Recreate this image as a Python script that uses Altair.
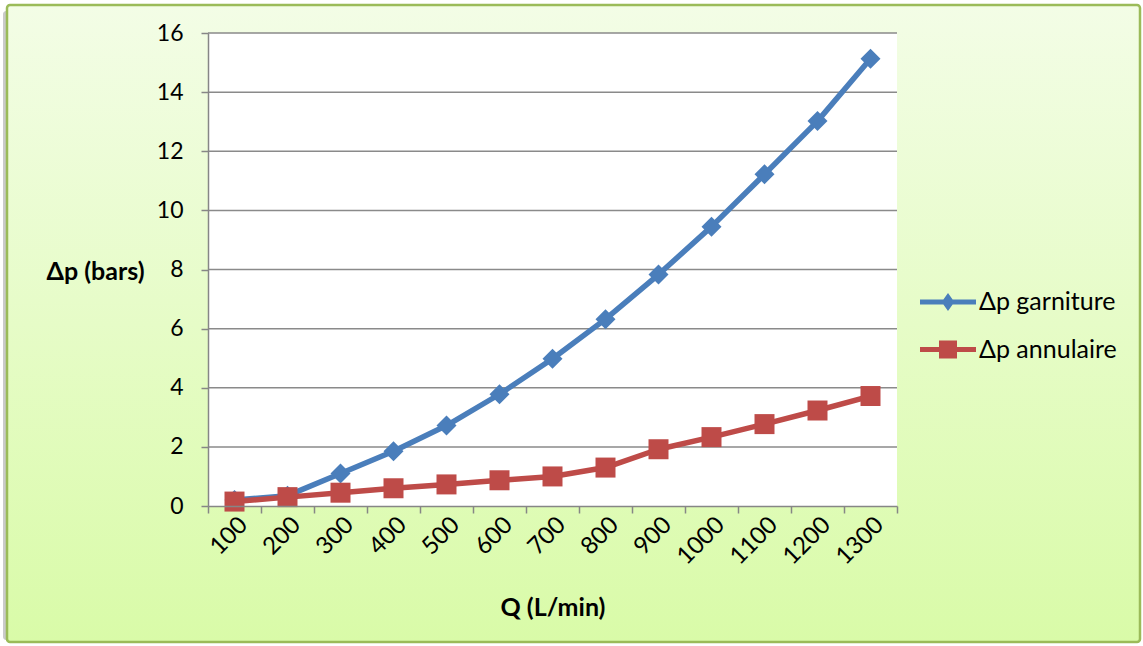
import altair as alt
import pandas as pd

# Flow rates (L/min) and pressure drops (bars)
debits = [100, 200, 300, 400, 500, 600, 700, 800, 900, 1000, 1100, 1200, 1300]
dp_garniture = [0.2, 0.35, 1.1, 1.85, 2.72, 3.78, 4.98, 6.32, 7.83, 9.45, 11.22, 13.02, 15.13]
dp_annulaire = [0.15, 0.3, 0.45, 0.6, 0.73, 0.87, 1.0, 1.3, 1.92, 2.33, 2.77, 3.23, 3.72]
series = ["Δp garniture", "Δp annulaire"]
y_ticks = [0, 2, 4, 6, 8, 10, 12, 14, 16]

rows = []
for name, vals in zip(series, [dp_garniture, dp_annulaire]):
    for q, v in zip(debits, vals):
        rows.append({"Q": str(q), "serie": name, "dp": v})
df = pd.DataFrame(rows)
grid_df = pd.DataFrame({"dp": y_ticks[1:]})
one = pd.DataFrame({"k": [0]})

W, H = 689, 473
FONT = "Lato"
colors = ["#4A7EBB", "#BE4B48"]
markers = ["diamond", "square"]

x_enc = alt.X(
    "Q:N",
    sort=[str(q) for q in debits],
    scale=alt.Scale(type="band", paddingInner=0, paddingOuter=0),
    title="Q (L/min)",
    axis=alt.Axis(
        labelAngle=-45, labelAlign="right", labelBaseline="middle",
        labelPadding=8, labelOffset=9, labelFont=FONT, labelFontSize=24,
        labelColor="#000000", tickBand="extent", tickSize=7,
        tickColor="#868686", tickWidth=1.5, domainColor="#868686",
        domainWidth=1.5, grid=False, zindex=1,
        titleFont=FONT, titleFontSize=25, titleFontWeight="bold",
        titleColor="#000000", titleY=101, titleBaseline="middle",
    ),
)
y_enc = alt.Y(
    "dp:Q",
    scale=alt.Scale(domain=[0, 16], nice=False, zero=True),
    title="Δp (bars)",
    axis=alt.Axis(
        values=y_ticks, labelFont=FONT, labelFontSize=23, labelColor="#000000",
        labelPadding=18, tickSize=7, tickColor="#868686", tickWidth=1.5,
        domainColor="#868686", domainWidth=1.5, grid=False, zindex=1,
        titleFont=FONT, titleFontSize=25, titleFontWeight="bold",
        titleColor="#000000", titleAngle=0, titleAlign="center",
        titleBaseline="middle", titleX=-113, titleY=238,
    ),
)

# chart frame: shadow, gradient panel, white plot area
shadow = alt.Chart(one).mark_rect(color="#BDBDBD", opacity=0.8, cornerRadius=3).encode(
    x=alt.value(-205), x2=alt.value(925), y=alt.value(-22), y2=alt.value(607)
)
frame = alt.Chart(one).mark_rect(
    fill=alt.Gradient(
        gradient="linear",
        stops=[alt.GradientStop(color="#F3FDE6", offset=0),
               alt.GradientStop(color="#D9FBA8", offset=1)],
        x1=0, x2=0, y1=0, y2=1,
    ),
    stroke="#9BBB59", strokeWidth=2.5, cornerRadius=3,
).encode(x=alt.value(-201), x2=alt.value(932), y=alt.value(-28), y2=alt.value(609))
plot_bg = alt.Chart(one).mark_rect(color="#FFFFFF").encode(
    x=alt.value(0), x2=alt.value(W), y=alt.value(0), y2=alt.value(H)
)

grid = alt.Chart(grid_df).mark_rule(color="#8A8A8A", strokeWidth=1.5).encode(
    y=y_enc, x=alt.value(0), x2=alt.value(W)
)

# legend symbols: a line segment carrying the series marker
leg_paths = [
    "M-1.4,-0.13H1.4V0.13H-1.4Z M0,-0.45L0.32,0L0,0.45L-0.32,0Z",
    "M-1.4,-0.13H1.4V0.13H-1.4Z M-0.45,-0.45H0.45V0.45H-0.45Z",
]
leg_y = [249, 296.5]
leg_channels = [alt.Fill, alt.Color]

layers = [shadow, frame, plot_bg, grid]
for i, name in enumerate(series):
    base = alt.Chart(df).transform_filter(alt.datum.serie == name)
    # one single-entry legend per series
    layers.append(
        base.mark_point(filled=True, opacity=0).encode(
            x=x_enc, y=y_enc,
            **{("fill" if i == 0 else "color"): leg_channels[i](
                "serie:N",
                scale=alt.Scale(domain=[name], range=[colors[i]]),
                legend=alt.Legend(
                    title=None, orient="none", legendX=720, legendY=leg_y[i],
                    symbolType=leg_paths[i], symbolOpacity=1,
                ),
            )},
        )
    )
for i, name in enumerate(series):
    base = alt.Chart(df).transform_filter(alt.datum.serie == name)
    layers.append(
        base.mark_line(color=colors[i], strokeWidth=5.5, strokeJoin="round",
                       strokeCap="round").encode(x=x_enc, y=y_enc)
    )
    layers.append(
        base.mark_point(shape=markers[i], filled=True, opacity=1, size=400,
                        color=colors[i]).encode(x=x_enc, y=y_enc)
    )

chart = (
    alt.layer(*layers)
    .properties(
        width=W, height=H,
        autosize=alt.AutoSizeParams(type="none"),
        padding={"left": 208, "top": 33, "right": 246, "bottom": 140},
        background="#FFFFFF",
    )
    .configure_view(stroke=None)
    .configure_legend(
        padding=0, labelOffset=11, labelFont=FONT, labelFontSize=25,
        labelColor="#000000", symbolSize=1600, symbolStrokeWidth=0, labelLimit=300,
    )
)

chart.save("out.html", embed_options={"renderer": "svg", "actions": False})
